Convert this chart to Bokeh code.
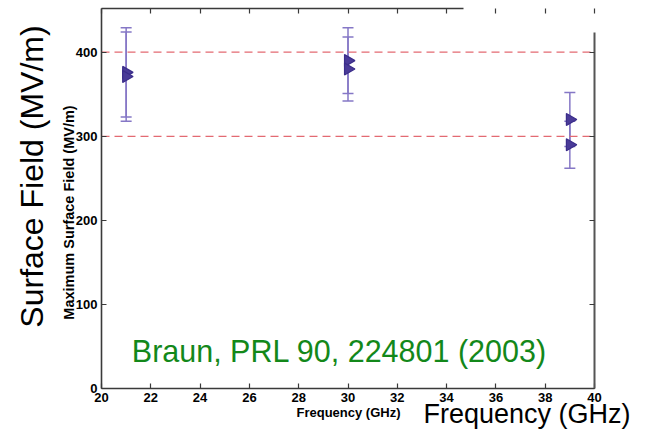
import math
from bokeh.plotting import figure
from bokeh.models import (Range1d, LinearAxis, FixedTicker, Whisker, TeeHead,
                          ColumnDataSource, Label)
from bokeh.embed import file_html
from bokeh.resources import INLINE

# ---- data ----
freq = [21, 21, 30, 30, 39, 39]
field = [376, 371, 390, 380, 320, 290]
err = [53, 53, 39, 38, 32, 28]
x_ticks = [20, 22, 24, 26, 28, 30, 32, 34, 36, 38, 40]
y_ticks = [0, 100, 200, 300, 400]
ref_levels = [300, 400]
y_top = 452          # top of the original axes box

src = ColumnDataSource(dict(
    x=freq, y=field,
    upper=[f + e for f, e in zip(field, err)],
    lower=[f - e for f, e in zip(field, err)],
))

# ---- layout (pixels of the canvas) ----
W, H = 632, 429
PX_LEFT, PX_RIGHT = 101, 594      # x = 20 .. 40
PX_TOP, PX_BOTTOM = 8, 388        # y = y_top .. 0
sx = (PX_RIGHT - PX_LEFT) / (x_ticks[-1] - x_ticks[0])
sy = (PX_BOTTOM - PX_TOP) / y_top
x0 = x_ticks[0] - PX_LEFT / sx
y0 = -(H - PX_BOTTOM) / sy


def dx(px):   # canvas pixel -> data x
    return x0 + px / sx


def dy(py):   # canvas pixel -> data y
    return (PX_BOTTOM - py) / sy


p = figure(width=W, height=H, output_backend="svg", toolbar_location=None,
           x_range=Range1d(x0, x0 + W / sx), y_range=Range1d(y0, y0 + H / sy),
           min_border=0, x_axis_location=None, y_axis_location=None)
p.xgrid.visible = False
p.ygrid.visible = False
p.outline_line_color = None
p.background_fill_color = "white"
p.border_fill_color = "white"

AX = "#3a3a3a"
FONT = "Liberation Sans"


def style(ax, show_labels):
    ax.axis_line_color = AX
    ax.axis_line_width = 1.6
    ax.major_tick_line_color = AX
    ax.major_tick_line_width = 1.2
    ax.major_tick_in = 5
    ax.major_tick_out = 0
    ax.minor_tick_line_color = None
    ax.major_label_text_font = FONT
    ax.major_label_text_font_style = "bold"
    ax.major_label_text_color = "black"
    if show_labels:
        ax.major_label_text_font_size = "13px"
    else:
        ax.major_label_text_font_size = "0px"
        ax.major_label_standoff = 0


xb = LinearAxis(ticker=FixedTicker(ticks=x_ticks), fixed_location=0,
                bounds=(x_ticks[0], x_ticks[-1]))
style(xb, True)
xb.major_label_standoff = 4
p.add_layout(xb, "below")

yl = LinearAxis(ticker=FixedTicker(ticks=y_ticks), fixed_location=x_ticks[0],
                bounds=(0, y_top))
style(yl, True)
yl.major_label_standoff = 4
p.add_layout(yl, "left")

xt = LinearAxis(ticker=FixedTicker(ticks=x_ticks), fixed_location=y_top,
                bounds=(x_ticks[0], 34.7))
style(xt, False)
p.add_layout(xt, "above")

yr = LinearAxis(ticker=FixedTicker(ticks=y_ticks), fixed_location=x_ticks[-1],
                bounds=(0, 424))
style(yr, False)
yr.axis_line_color = "#555555"
yr.axis_line_width = 2
p.add_layout(yr, "right")

# red dashed reference levels
p.segment(x0=[x_ticks[0]] * len(ref_levels), x1=[x_ticks[-1]] * len(ref_levels),
          y0=ref_levels, y1=ref_levels, line_color="#e36a72", line_dash="8 5",
          line_width=1.2)

p.add_layout(Whisker(source=src, base="x", upper="upper", lower="lower",
                     dimension="height", line_color="#8577c6", line_width=1.5,
                     upper_head=TeeHead(size=11, line_color="#8577c6", line_width=1.5),
                     lower_head=TeeHead(size=11, line_color="#8577c6", line_width=1.5)))

p.scatter("x", "y", source=src, marker="triangle", angle=-math.pi / 2, size=12,
          fill_color="#4a3b98", line_color="#3b2d8a", line_width=1.2)

# axis titles of the original plot
p.add_layout(Label(x=dx(68), y=dy(212), text="Maximum Surface Field (MV/m)",
                   angle=math.pi / 2, text_align="center", text_baseline="middle",
                   text_font=FONT, text_font_style="bold", text_font_size="14.5px",
                   text_color="black"))
p.add_layout(Label(x=dx(348), y=dy(412), text="Frequency (GHz)",
                   text_align="center", text_baseline="middle", text_font=FONT,
                   text_font_style="bold", text_font_size="13px", text_color="black"))

# overlay texts
p.add_layout(Label(x=dx(31), y=dy(176), text="Surface Field (MV/m)", angle=math.pi / 2,
                   text_align="center", text_baseline="middle", text_font=FONT,
                   text_font_size="32px", text_color="black"))
p.add_layout(Label(x=dx(W - 2), y=dy(428), text="Frequency (GHz)",
                   text_align="right", text_baseline="bottom", text_font=FONT,
                   text_font_size="27px", text_color="black"))
p.add_layout(Label(x=dx(339), y=dy(350), text="Braun, PRL 90, 224801 (2003)",
                   text_align="center", text_baseline="middle", text_font=FONT,
                   text_font_size="30.5px", text_color="#13881a"))

open("out.html", "w").write(file_html(p, INLINE))
